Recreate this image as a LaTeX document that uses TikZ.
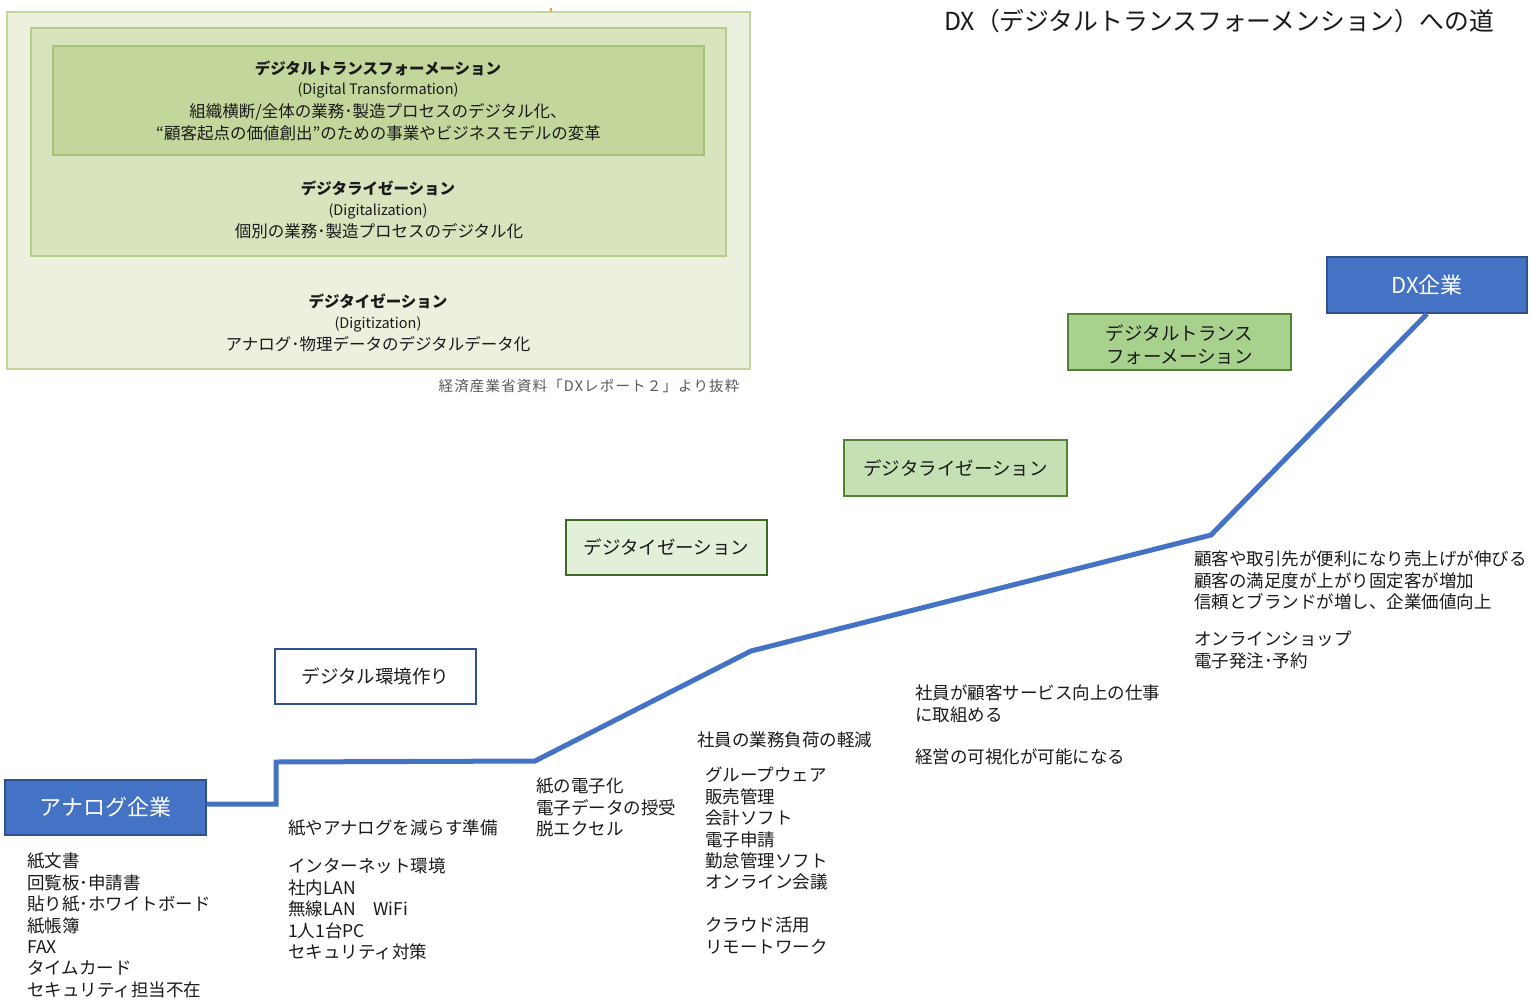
\documentclass[tikz,border=0pt]{standalone}
\usepackage{fontspec}
\setmainfont{Noto Sans CJK JP}
\definecolor{dxblue}{HTML}{4472C4}
\definecolor{dxblueedge}{HTML}{2F528F}
\definecolor{pA}{HTML}{EBF1DE}
\definecolor{pAedge}{HTML}{C3D69B}
\definecolor{pB}{HTML}{D7E4BD}
\definecolor{pBedge}{HTML}{B5CC8A}
\definecolor{pC}{HTML}{C3D69B}
\definecolor{pCedge}{HTML}{A6C17A}
\definecolor{gDT}{HTML}{A9D18E}
\definecolor{gDZ}{HTML}{C5E0B4}
\definecolor{gDI}{HTML}{E2F0D9}
\definecolor{gedge}{HTML}{548235}
\definecolor{gedgeD}{HTML}{3E6A25}
\definecolor{capgray}{HTML}{595959}
\definecolor{txt}{HTML}{1A1A1A}
\newcommand\fst{\rule{0pt}{16pt}}
\begin{document}
\begin{tikzpicture}[x=1pt,y=-1pt,
  sline/.style={text height=#1, text depth=0pt},
  ctext/.style={inner sep=0pt, text=txt},
  ptitle/.style={ctext, sline=11.78pt, font=\fontsize{15.5}{18}\selectfont\bfseries},
  plat/.style={ctext, sline=11.02pt, font=\fontsize{14.5}{18}\selectfont},
  pline/.style={ctext, sline=12.54pt, font=\fontsize{16.5}{20}\selectfont},
  lst/.style={anchor=north west, inner sep=0pt, align=left, text=txt,
    font=\fontsize{17.5}{21.4}\selectfont},
  stagebox/.style={draw, line width=1.8pt, inner sep=0pt,
    font=\fontsize{18.5}{23}\selectfont, text=txt},
  bluebox/.style={draw=dxblueedge, fill=dxblue, line width=1.8pt, inner sep=0pt,
    sline=16.72pt, text=white, font=\fontsize{22}{26}\selectfont},
  flow/.style={draw=dxblue, line width=5pt, line join=miter}
]
\useasboundingbox (0,0) rectangle (1531,1001);
\fill[white] (0,0) rectangle (1531,1001);

% --- panel from the METI report ---
\draw[fill=pA, draw=pAedge, line width=1.5pt] (7,12) rectangle (750,369);
\draw[fill=pB, draw=pBedge, line width=1.5pt] (31,28) rectangle (726,256);
\draw[fill=pC, draw=pCedge, line width=1.5pt] (53,46) rectangle (704,155);
\draw[orange!80, line width=1.5pt] (551,8) -- (551,12);

\node[ptitle] (dtT) at (378,69) {デジタルトランスフォーメーション};
\node[plat] (dtE) at (378,89) {(Digital Transformation)};
\node[pline] (dtL1) at (378,111) {組織横断/全体の業務･製造プロセスのデジタル化、};
\node[pline] (dtL2) at (378.5,133) {“顧客起点の価値創出”のための事業やビジネスモデルの変革};

\node[ptitle] (dzT) at (378,189) {デジタライゼーション};
\node[plat] (dzE) at (378,210) {(Digitalization)};
\node[pline] (dzL) at (379,231) {個別の業務･製造プロセスのデジタル化};

\node[ptitle] (diT) at (378,302) {デジタイゼーション};
\node[plat] (diE) at (378,323) {(Digitization)};
\node[pline] (diL) at (378,344) {アナログ･物理データのデジタルデータ化};

\node[inner sep=0pt, sline=11.02pt, text=capgray,
  font=\fontsize{14.5}{18}\selectfont\addfontfeature{LetterSpace=8}] (cap) at (589,386)
  {経済産業省資料「DXレポート２」より抜粋};

% --- title ---
\node[inner sep=0pt, sline=18.8pt, text=txt,
  font=\fontsize{24.8}{28}\selectfont, anchor=east] (title) at (1494,21)
  {DX（デジタルトランスフォーメンション）への道};

% --- stage boxes ---
\node[bluebox, minimum width=200pt, minimum height=56pt] (dx) at (1427,285) {DX企業};
\node[stagebox, draw=gedge, fill=gDT, minimum width=223pt, minimum height=56pt,
  align=center] (dt) at (1179.5,342)
  {\rule{0pt}{20.3pt}デジタルトランス\\フォーメーション};
\node[stagebox, sline=14.06pt, draw=gedge, fill=gDZ, minimum width=223pt, minimum height=56pt] (dz) at (955.5,468) {デジタライゼーション};
\node[stagebox, sline=14.06pt, draw=gedgeD, fill=gDI, minimum width=201pt, minimum height=55pt] (di) at (666.5,547.5) {デジタイゼーション};
\node[stagebox, sline=14.06pt, draw=dxblueedge, fill=white, minimum width=201pt, minimum height=55pt] (env) at (375.5,676.5) {デジタル環境作り};
\node[bluebox, minimum width=201pt, minimum height=55pt] (analog) at (105.5,807.5) {アナログ企業};

% --- growth path ---
\coordinate (c1) at (276,804);
\coordinate (c2) at (276,762);
\coordinate (c3) at (535,761);
\coordinate (c4) at (751,651);
\coordinate (c5) at (1211,535);
\draw[flow] ([yshift=3.5pt]analog.east) -- (c1) -- (c2) -- (c3) -- (c4) -- (c5) -- (dx.south);

% --- descriptions ---
\node[lst] (anaL) at (27,851.65) {\fst 紙文書\\回覧板･申請書\\貼り紙･ホワイトボード\\紙帳簿\\FAX\\タイムカード\\セキュリティ担当不在};
\node[lst] (envH) at (288,818.65) {\fst 紙やアナログを減らす準備};
\node[lst] (envL) at (288,856.65) {\fst インターネット環境\\社内LAN\\無線LAN　WiFi\\1人1台PC\\セキュリティ対策};
\node[lst] (diL2) at (536,776.65) {\fst 紙の電子化\\電子データの授受\\脱エクセル};
\node[lst] (dzH) at (697,730.65) {\fst 社員の業務負荷の軽減};
\node[lst] (dzL2) at (705,765.65) {\fst グループウェア\\販売管理\\会計ソフト\\電子申請\\勤怠管理ソフト\\オンライン会議\\[21.4pt]クラウド活用\\リモートワーク};
\node[lst] (dtL3) at (915,683.65) {\fst 社員が顧客サービス向上の仕事\\に取組める\\[21pt]経営の可視化が可能になる};
\node[lst] (dxL) at (1194,549.65) {\fst 顧客や取引先が便利になり売上げが伸びる\\顧客の満足度が上がり固定客が増加\\信頼とブランドが増し、企業価値向上\\[15.6pt]オンラインショップ\\電子発注･予約};
\end{tikzpicture}
\end{document}
